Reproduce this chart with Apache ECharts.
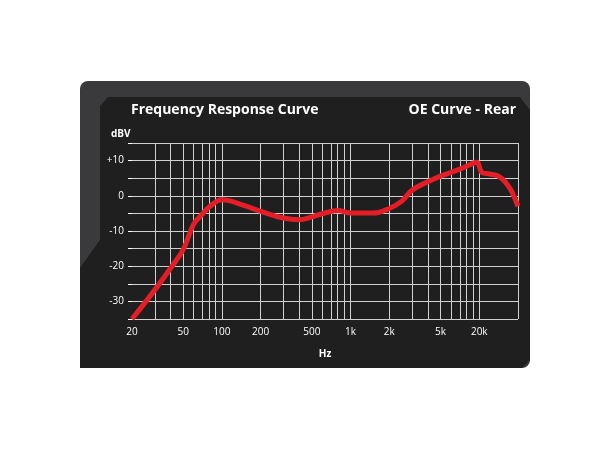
<!DOCTYPE html>
<html>
<head>
<meta charset="utf-8">
<script src="https://cdn.jsdelivr.net/npm/echarts@6/dist/echarts.min.js"></script>
<style>html,body{margin:0;background:#fff}#main{width:610px;height:450px}</style>
</head>
<body>
<div id="main"></div>
<script>
// frequency (Hz) and level (dBV)
var freqs = [20, 30, 40, 50, 60, 70, 80, 100, 150, 200, 300, 400, 500, 600, 800, 1000, 1500, 2000, 2500, 3000, 4000, 5000, 7000, 9000, 9600, 10500, 12000, 14000, 16000, 18000, 20000];
var levels = [-35, -26.8, -20.5, -15.3, -8.2, -5.3, -3.1, -1.1, -2.8, -4.4, -6.3, -6.8, -6, -5.1, -4.2, -4.9, -4.9, -3.6, -1.5, 1.6, 4, 5.6, 7.5, 9.3, 9.5, 6.6, 6.2, 5.6, 3.8, 1, -3];
var gridFreqs = [20, 30, 40, 50, 60, 70, 80, 90, 100, 200, 300, 400, 500, 600, 700, 800, 900, 1000, 2000, 3000, 4000, 5000, 6000, 7000, 8000, 9000, 10000, 20000];
var tickFreqs = [20, 50, 100, 200, 500, 1000, 2000, 5000, 10000];
var tickNames = ['20', '50', '100', '200', '500', '1k', '2k', '5k', '20k'];

var lg = function (f) { return Math.log10(f); };
var curve = freqs.map(function (f, i) { return [lg(f), levels[i]]; });

var chart = echarts.init(document.getElementById('main'));
chart.setOption({
    backgroundColor: '#fff',
    animation: false,
    textStyle: {fontFamily: 'Open Sans'},
    graphic: [
        {type: 'rect', shape: {x: 80, y: 81, width: 450, height: 287, r: 8}, style: {fill: '#3a3a3c'}, z: -10},
        {type: 'polygon', shape: {points: [[108, 97], [520, 97], [530, 110], [530, 360], [522, 368], [80, 368], [80, 268], [100, 240], [100, 106]]}, style: {fill: '#1f1f1f'}, z: -9},
        {type: 'text', left: 131, top: 103, style: {text: 'Frequency Response Curve', fill: '#fff', font: 'bold 14px "Open Sans"'}, z: 5},
        {type: 'text', right: 94, top: 103, style: {text: 'OE Curve - Rear', fill: '#fff', font: 'bold 14px "Open Sans"', textAlign: 'right'}, z: 5},
        {type: 'text', left: 111, top: 129, style: {text: 'dBV', fill: '#fff', font: 'bold 10px "Open Sans"'}, z: 5}
    ],
    grid: {left: 132, right: 92, top: 143, bottom: 131},
    xAxis: {
        type: 'value', min: lg(20), max: lg(20000),
        name: 'Hz', nameLocation: 'middle', nameGap: 30,
        nameTextStyle: {color: '#fff', fontWeight: 'bold', fontSize: 10},
        axisLine: {show: false}, axisTick: {show: false}, splitLine: {show: false},
        axisLabel: {
            color: '#fff', fontSize: 10, hideOverlap: false,
            customValues: tickFreqs.map(lg),
            formatter: function (v) {
                var i = tickFreqs.findIndex(function (f) { return Math.abs(lg(f) - v) < 1e-3; });
                return i < 0 ? '' : tickNames[i];
            }
        }
    },
    yAxis: {
        type: 'value', min: -35, max: 15, interval: 5,
        axisLine: {show: false},
        axisTick: {show: true, length: 4, lineStyle: {color: '#fff'}},
        splitLine: {lineStyle: {color: '#d0d0d0', width: 1}},
        axisLabel: {
            color: '#fff', fontSize: 10,
            formatter: function (v) {
                if (v % 10 !== 0) return '';
                return v > 0 ? '+' + v : '' + v;
            }
        }
    },
    series: [
        {
            type: 'line', data: [], silent: true,
            markLine: {
                silent: true, symbol: 'none', label: {show: false},
                lineStyle: {color: '#d0d0d0', width: 1, type: 'solid'},
                data: gridFreqs.map(function (f) { return {xAxis: lg(f)}; })
            }
        },
        {
            type: 'line', data: curve, smooth: 0.4, symbol: 'none', z: 10,
            lineStyle: {color: '#e41e26', width: 5}
        }
    ]
});
</script>
</body>
</html>
